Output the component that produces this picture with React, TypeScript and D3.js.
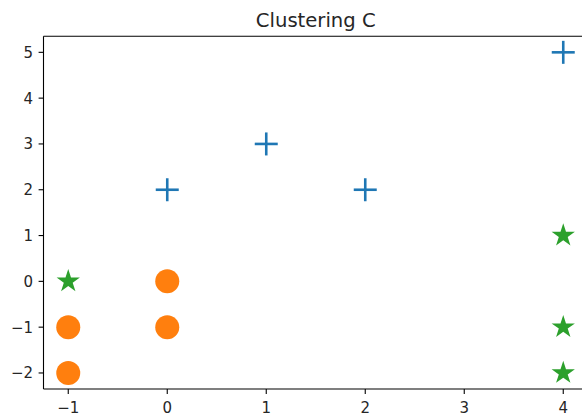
import React from "react";
import * as d3 from "d3";

const xTicks = [-1, 0, 1, 2, 3, 4];
const yTicks = [-2, -1, 0, 1, 2, 3, 4, 5];
const plusX = [0, 1, 2, 4];
const plusY = [2, 3, 2, 5];
const circleX = [-1, -1, 0, 0];
const circleY = [-1, -2, 0, -1];
const starX = [-1, 4, 4, 4];
const starY = [0, 1, -1, -2];
const title = "Clustering C";

const W = 582, H = 416;
const left = 43.5, right = 588, top = 36.3, bottom = 389;

export default function App() {
  const x = d3.scaleLinear().domain([-1.25, 4.25]).range([left, right]);
  const y = d3.scaleLinear().domain([-2.35, 5.35]).range([bottom, top]);
  const fmt = (v: number) => (v < 0 ? "\u2212" + Math.abs(v) : String(v));
  const star = d3.symbol(d3.symbolStar, 168)() as string;
  const font = "DejaVu Sans, sans-serif";
  const ps = 11.5;
  return (
    <svg width={W} height={H} style={{ position: "absolute", left: 0, top: 0, background: "#fff" }}>
      <rect x={0} y={0} width={W} height={H} fill="#fff" />
      <text x={(left + right) / 2} y={27} textAnchor="middle" fontFamily={font} fontSize={19.6} fill="#262626">{title}</text>
      {plusX.map((v, i) => (
        <g key={"p" + i} transform={`translate(${x(v)},${y(plusY[i])})`} stroke="#1f77b4" strokeWidth={2.6}>
          <line x1={-ps} x2={ps} y1={0} y2={0} />
          <line x1={0} x2={0} y1={-ps} y2={ps} />
        </g>
      ))}
      {circleX.map((v, i) => (
        <circle key={"c" + i} cx={x(v)} cy={y(circleY[i])} r={12} fill="#ff7f0e" />
      ))}
      {starX.map((v, i) => (
        <path key={"s" + i} d={star} transform={`translate(${x(v)},${y(starY[i])})`} fill="#2ca02c" />
      ))}
      <g stroke="#000" strokeWidth={1.1} fill="none">
        <line x1={left} x2={left} y1={top} y2={bottom} />
        <line x1={left} x2={right} y1={bottom} y2={bottom} />
        <line x1={left} x2={right} y1={top} y2={top} />
        <line x1={right} x2={right} y1={top} y2={bottom} />
      </g>
      {xTicks.map((t) => (
        <g key={"xt" + t}>
          <line x1={x(t)} x2={x(t)} y1={bottom} y2={bottom + 4.9} stroke="#000" strokeWidth={1.1} />
          <text x={x(t)} y={bottom + 24} textAnchor="middle" fontFamily={font} fontSize={15} fill="#262626">{fmt(t)}</text>
        </g>
      ))}
      {yTicks.map((t) => (
        <g key={"yt" + t}>
          <line x1={left - 4.9} x2={left} y1={y(t)} y2={y(t)} stroke="#000" strokeWidth={1.1} />
          <text x={left - 10.5} y={y(t)} dy="0.36em" textAnchor="end" fontFamily={font} fontSize={15} fill="#262626">{fmt(t)}</text>
        </g>
      ))}
    </svg>
  );
}
